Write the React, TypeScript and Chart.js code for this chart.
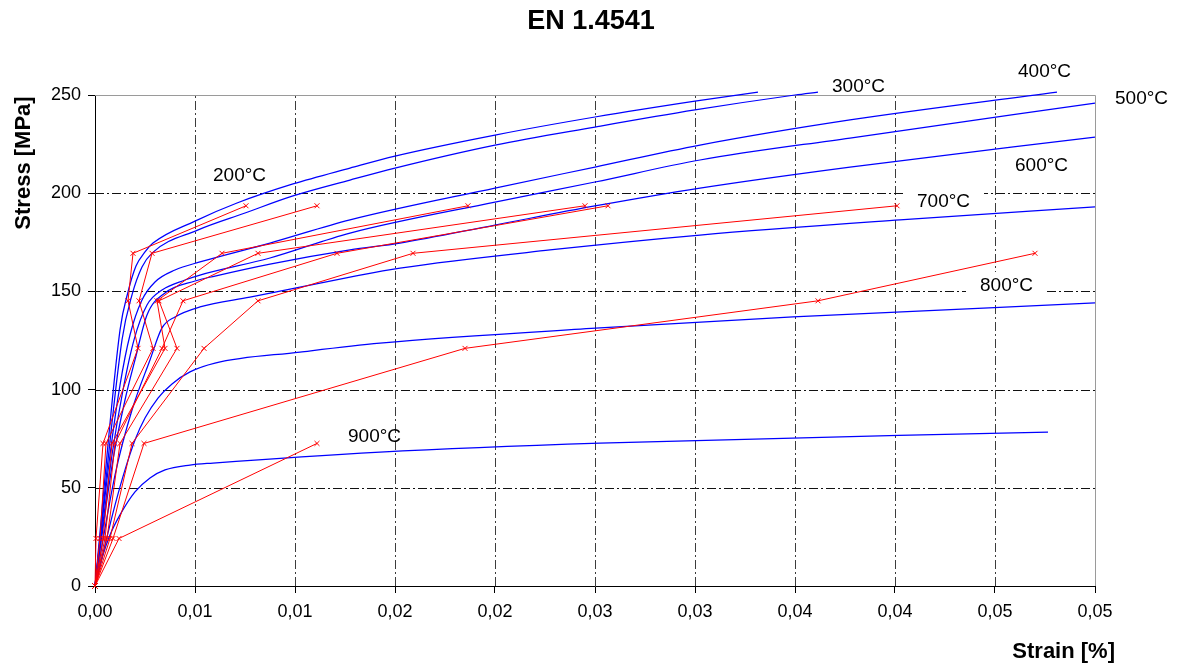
import React, { useEffect, useRef } from 'react';
import { Chart, registerables } from 'chart.js';

Chart.register(...registerables);

const FONT = '"Liberation Sans", Arial, Helvetica, sans-serif';
const BLUE = '#0000ff';
const RED = '#ff0000';

// Axis ticks
const xTickLabels = ['0,00', '0,01', '0,01', '0,02', '0,02', '0,03', '0,03', '0,04', '0,04', '0,05', '0,05'];
const yTickLabels = ['0', '50', '100', '150', '200', '250'];

// Model stress-strain curves (strain [-], stress [MPa])
const model200Strain = [0, 0.00125, 0.00165, 0.00205, 0.0025, 0.0029, 0.005, 0.0071, 0.0099, 0.01275, 0.015, 0.02, 0.025, 0.03, 0.03315];
const model200Stress = [0, 130.3, 149.7, 162.9, 170.1, 174.6, 185.8, 195.0, 204.7, 212.8, 218.9, 229.6, 238.8, 246.9, 251.5];

const model300Strain = [0, 0.00135, 0.00185, 0.00235, 0.00285, 0.0051, 0.0075, 0.0099, 0.01275, 0.015, 0.02, 0.025, 0.03, 0.035, 0.03615];
const model300Stress = [0, 125.3, 148.2, 162.4, 169.5, 181.1, 189.9, 198.6, 206.7, 212.8, 224.5, 233.7, 242.4, 250.0, 251.5];

const model400Strain = [0, 0.00075, 0.00125, 0.00175, 0.00235, 0.003, 0.004, 0.00525, 0.00875, 0.01275, 0.02, 0.025, 0.03025, 0.03775, 0.0481];
const model400Stress = [0, 66.7, 102.3, 127.8, 145.6, 154.8, 160.9, 165.0, 174.6, 186.4, 202.6, 213.3, 224.5, 237.3, 251.5];

const model500Strain = [0, 0.00085, 0.0014, 0.00195, 0.0026, 0.00335, 0.0045, 0.00525, 0.00875, 0.01275, 0.02, 0.025, 0.03025, 0.03775, 0.05];
const model500Stress = [0, 66.7, 99.8, 125.3, 143.1, 150.7, 155.8, 158.3, 167.0, 179.7, 195.5, 205.7, 216.9, 228.1, 245.9];

const model600Strain = [0, 0.0009, 0.0015, 0.002, 0.0026, 0.0035, 0.005, 0.006, 0.00875, 0.01275, 0.01525, 0.02, 0.025, 0.03025, 0.03775, 0.05];
const model600Stress = [0, 64.2, 94.7, 115.1, 138.0, 149.2, 155.3, 157.8, 163.9, 171.1, 174.6, 183.8, 193.5, 202.6, 213.3, 228.6];

const model700Strain = [0, 0.001, 0.00185, 0.00275, 0.00335, 0.004, 0.00525, 0.00775, 0.01, 0.01275, 0.01525, 0.02275, 0.03025, 0.04025, 0.05];
const model700Stress = [0, 56.5, 89.6, 115.1, 131.4, 137.0, 142.1, 147.1, 151.7, 157.3, 161.9, 171.1, 178.7, 186.4, 193.0];

const model800Strain = [0, 0.0005, 0.001, 0.0015, 0.002, 0.0025, 0.00315, 0.00385, 0.00475, 0.006, 0.01025, 0.01425, 0.02525, 0.0349, 0.05];
const model800Stress = [0, 20.9, 41.2, 59.1, 74.3, 85.5, 95.7, 102.9, 109.0, 113.5, 119.1, 123.7, 131.4, 137.0, 144.1];

const model900Strain = [0, 0.0004, 0.00075, 0.00125, 0.002, 0.00275, 0.0035, 0.00475, 0.0059, 0.01425, 0.02525, 0.04765];
const model900Stress = [0, 15.8, 26.0, 36.2, 47.9, 55.0, 59.1, 61.6, 62.6, 68.2, 72.8, 78.4];

// Test results: stress levels held during the transient tests, and measured strains
const testStressLevels = [0, 24.2, 72.6, 121.0, 145.2, 169.4, 193.6];
const test200Strain = [0, 0.00005, 0.0004, 0.00215, 0.00165, 0.0019, 0.00755];
const test300Strain = [0, 0.00025, 0.00055, 0.0029, 0.0022, 0.00285, 0.0111];
const test400Strain = [0, 0.0004, 0.00085, 0.0035, 0.0031, 0.00635, 0.01865];
const test500Strain = [0, 0.0005, 0.001, 0.00335, 0.0044, 0.0121, 0.02565];
const test600Strain = [0, 0.0006, 0.00125, 0.0041, 0.0032, 0.00815, 0.0245];
const test700Strain = [0, 0.00075, 0.00185, 0.00545, 0.00815, 0.0159, 0.0401];
const test800Strain = [0, 0.0009, 0.00245, 0.0185, 0.03615, 0.047];
const test900Strain = [0, 0.0012, 0.0111];

const modelSeries = [
  { temp: 200, strain: model200Strain, stress: model200Stress },
  { temp: 300, strain: model300Strain, stress: model300Stress },
  { temp: 400, strain: model400Strain, stress: model400Stress },
  { temp: 500, strain: model500Strain, stress: model500Stress },
  { temp: 600, strain: model600Strain, stress: model600Stress },
  { temp: 700, strain: model700Strain, stress: model700Stress },
  { temp: 800, strain: model800Strain, stress: model800Stress },
  { temp: 900, strain: model900Strain, stress: model900Stress },
];

const testSeries = [
  { temp: 200, strain: test200Strain },
  { temp: 300, strain: test300Strain },
  { temp: 400, strain: test400Strain },
  { temp: 500, strain: test500Strain },
  { temp: 600, strain: test600Strain },
  { temp: 700, strain: test700Strain },
  { temp: 800, strain: test800Strain },
  { temp: 900, strain: test900Strain },
];

// Temperature annotations, anchored in data space (left edge, baseline)
const tempLabels = [
  { text: '200°C', strain: 0.0059, stress: 206.2, box: false },
  { text: '300°C', strain: 0.03685, stress: 251.5, box: false },
  { text: '400°C', strain: 0.04615, stress: 259.2, box: false },
  { text: '500°C', strain: 0.051, stress: 245.4, box: false },
  { text: '600°C', strain: 0.046, stress: 211.3, box: false },
  { text: '700°C', strain: 0.0411, stress: 193.0, box: true },
  { text: '800°C', strain: 0.04425, stress: 150.2, box: true },
  { text: '900°C', strain: 0.01265, stress: 73.3, box: false },
];

const crisp = (v: number) => Math.round(v) + 0.5;

const gridPlugin = {
  id: 'dashDotGrid',
  beforeDatasetsDraw(chart: any) {
    const { ctx, chartArea: a, scales } = chart;
    const xs = scales.x;
    const ys = scales.y;
    ctx.save();
    ctx.lineWidth = 1;
    ctx.setLineDash([9, 3, 2, 3]);
    ctx.strokeStyle = '#3c3c3c';
    xs.ticks.forEach((t: any, i: number) => {
      if (i === 0 || i === xs.ticks.length - 1) return;
      const px = crisp(xs.getPixelForValue(t.value));
      ctx.beginPath();
      ctx.moveTo(px, a.bottom);
      ctx.lineTo(px, a.top);
      ctx.stroke();
    });
    ctx.strokeStyle = '#111';
    ys.ticks.forEach((t: any, i: number) => {
      if (i === 0 || i === ys.ticks.length - 1) return;
      const py = crisp(ys.getPixelForValue(t.value));
      ctx.beginPath();
      ctx.moveTo(a.left, py);
      ctx.lineTo(a.right, py);
      ctx.stroke();
    });
    // plot frame: top and right edges
    ctx.setLineDash([]);
    ctx.strokeStyle = '#9a9a9a';
    ctx.beginPath();
    ctx.moveTo(a.left, crisp(a.top));
    ctx.lineTo(crisp(a.right), crisp(a.top));
    ctx.lineTo(crisp(a.right), a.bottom);
    ctx.stroke();
    ctx.restore();
  },
};

const textPlugin = {
  id: 'texts',
  afterDatasetsDraw(chart: any) {
    const { ctx, scales } = chart;
    ctx.save();
    ctx.font = `19px ${FONT}`;
    ctx.textAlign = 'left';
    ctx.textBaseline = 'alphabetic';
    tempLabels.forEach((l) => {
      const px = scales.x.getPixelForValue(l.strain);
      const py = scales.y.getPixelForValue(l.stress);
      if (l.box) {
        const w = ctx.measureText(l.text).width;
        ctx.fillStyle = '#fff';
        ctx.fillRect(px - 14, py - 19, w + 28, 24);
      }
      ctx.fillStyle = '#000';
      ctx.fillText(l.text, px, py);
    });
    ctx.restore();
  },
  afterDraw(chart: any) {
    const { ctx } = chart;
    ctx.save();
    ctx.fillStyle = '#000';
    ctx.textAlign = 'center';
    ctx.textBaseline = 'middle';
    ctx.font = `bold 27px ${FONT}`;
    ctx.fillText('EN 1.4541', 591, 22);
    ctx.font = `bold 22px ${FONT}`;
    ctx.textAlign = 'right';
    ctx.fillText('Strain [%]', 1115, 652);
    ctx.translate(24, 163);
    ctx.rotate(-Math.PI / 2);
    ctx.textAlign = 'center';
    ctx.fillText('Stress [MPa]', 0, 0);
    ctx.restore();
  },
};

export default function App() {
  const canvasRef = useRef<HTMLCanvasElement>(null);

  useEffect(() => {
    const canvas = canvasRef.current;
    if (!canvas) return;

    const testSets = testSeries.map((s) => ({
      label: `${s.temp}°C test`,
      data: s.strain.map((e, i) => ({ x: e, y: testStressLevels[i] })),
      showLine: true,
      borderColor: RED,
      backgroundColor: RED,
      borderWidth: 1,
      pointStyle: 'crossRot',
      pointRadius: 3.5,
      pointBorderColor: RED,
      pointBorderWidth: 1,
      tension: 0,
      clip: false,
      order: 1,
    }));

    const modelSets = modelSeries.map((s) => ({
      label: `${s.temp}°C`,
      data: s.strain.map((e, i) => ({ x: e, y: s.stress[i] })),
      showLine: true,
      borderColor: BLUE,
      backgroundColor: BLUE,
      borderWidth: 1.25,
      pointRadius: 0,
      cubicInterpolationMode: 'monotone',
      clip: false,
      order: 2,
    }));

    const chart = new Chart(canvas, {
      type: 'scatter',
      data: { datasets: [...testSets, ...modelSets] as any },
      options: {
        animation: false,
        responsive: false,
        devicePixelRatio: 1,
        layout: { padding: { top: 95, right: 84, left: 0, bottom: 0 } },
        plugins: {
          legend: { display: false },
          title: { display: false },
          tooltip: { enabled: false },
        },
        scales: {
          x: {
            type: 'linear',
            min: 0,
            max: 0.05,
            ticks: {
              stepSize: 0.005,
              autoSkip: false,
              maxRotation: 0,
              padding: 8,
              color: '#000',
              font: { family: FONT, size: 18 },
              callback: (_v: any, i: number) => xTickLabels[i],
            },
            grid: {
              color: 'transparent',
              drawOnChartArea: false,
              drawTicks: true,
              tickLength: 7,
              tickColor: '#000',
            },
            border: { display: true, color: '#000', width: 1 },
            afterFit: (scale: any) => {
              scale.height = 79;
            },
          },
          y: {
            type: 'linear',
            min: 0,
            max: 250,
            ticks: {
              stepSize: 50,
              padding: 7,
              color: '#000',
              font: { family: FONT, size: 18 },
              callback: (_v: any, i: number) => yTickLabels[i],
            },
            grid: {
              color: 'transparent',
              drawOnChartArea: false,
              drawTicks: true,
              tickLength: 7,
              tickColor: '#000',
            },
            border: { display: true, color: '#000', width: 1 },
            afterFit: (scale: any) => {
              scale.width = 95;
            },
          },
        },
      } as any,
      plugins: [gridPlugin, textPlugin],
    });

    return () => chart.destroy();
  }, []);

  return (
    <div style={{ position: 'fixed', left: 0, top: 0, width: 1179, height: 665, background: '#fff' }}>
      <canvas ref={canvasRef} width={1179} height={665} style={{ width: 1179, height: 665, display: 'block' }} />
    </div>
  );
}
